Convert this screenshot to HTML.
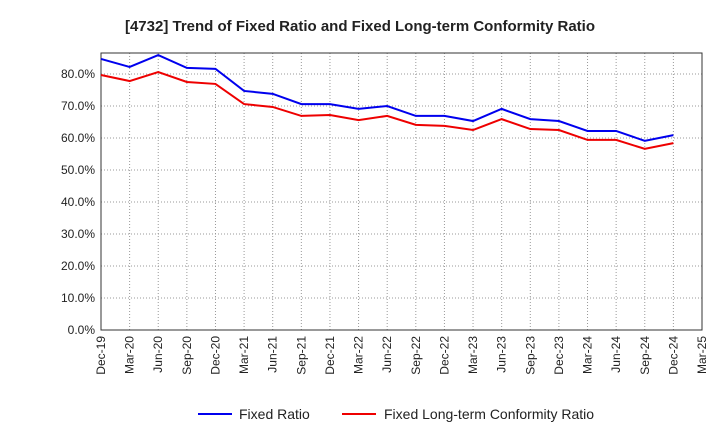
<!DOCTYPE html>
<html><head><meta charset="utf-8"><style>
body{margin:0;background:#fff;font-family:"Liberation Sans",sans-serif;}
svg text{font-family:"Liberation Sans",sans-serif;}
</style></head><body>
<svg width="720" height="440">
<text x="360" y="31" text-anchor="middle" font-size="15" font-weight="bold" fill="#222">[4732]  Trend of Fixed Ratio and Fixed Long-term Conformity Ratio</text>
<g id="grid"></g>
<g id="axes"></g>
<g id="series"></g>
<g>
<line x1="198" y1="414" x2="232" y2="414" stroke="#0000ee" stroke-width="2"/>
<text x="239" y="419" font-size="14" fill="#222">Fixed Ratio</text>
<line x1="342" y1="414" x2="376" y2="414" stroke="#ee0000" stroke-width="2"/>
<text x="384" y="419" font-size="14" fill="#222">Fixed Long-term Conformity Ratio</text>
</g>
</svg>
<script>
const xLabels=["Dec-19","Mar-20","Jun-20","Sep-20","Dec-20","Mar-21","Jun-21","Sep-21","Dec-21","Mar-22","Jun-22","Sep-22","Dec-22","Mar-23","Jun-23","Sep-23","Dec-23","Mar-24","Jun-24","Sep-24","Dec-24","Mar-25"];
const yTicks=[0,10,20,30,40,50,60,70,80];
const fixedRatio=[84.7,82.2,85.9,81.9,81.6,74.7,73.8,70.6,70.6,69.1,70.0,66.9,66.9,65.3,69.1,65.9,65.3,62.2,62.2,59.1,60.9];
const conformityRatio=[79.7,77.8,80.6,77.5,76.9,70.6,69.7,66.9,67.2,65.6,66.9,64.1,63.8,62.5,65.9,62.8,62.5,59.4,59.4,56.6,58.4];
const L=101,R=702,T=53,B=330;
const NS="http://www.w3.org/2000/svg";
const xs=i=>L+i*(R-L)/(xLabels.length-1);
const ys=v=>B-v*3.2;
function mk(tag,attrs,parent){const e=document.createElementNS(NS,tag);for(const k in attrs)e.setAttribute(k,attrs[k]);parent.appendChild(e);return e;}
const grid=document.getElementById('grid'),axes=document.getElementById('axes'),series=document.getElementById('series');
yTicks.forEach(v=>{
 const l=mk('line',{x1:L,x2:R,y1:ys(v),y2:ys(v),stroke:'#999','stroke-dasharray':'1,2'},grid);
 
 
 const t=mk('text',{x:L-6,y:ys(v)+4,'text-anchor':'end','font-size':12,fill:'#222'},axes);
 t.textContent=v.toFixed(1)+'%';
 
 
});
xLabels.forEach((lab,i)=>{
 const x=xs(i);
 const l=mk('line',{x1:x,x2:x,y1:T,y2:B,stroke:'#999','stroke-dasharray':'1,2'},grid);
 
 
 const t=mk('text',{x:x+4,y:B+6,'text-anchor':'end','font-size':12,fill:'#222',transform:`rotate(-90 ${x+4} ${B+6})`},axes);
 t.textContent=lab;
 
 
});
const fr=mk('rect',{x:L,y:T,width:R-L,height:B-T,fill:'none',stroke:'#333'},axes);


function line(data,color,name){
 const p=mk('polyline',{points:data.map((v,i)=>xs(i)+','+ys(v)).join(' '),fill:'none',stroke:color,'stroke-width':2},series);
 
 
}
line(conformityRatio,'#ee0000','conformity-ratio-line');
line(fixedRatio,'#0000ee','fixed-ratio-line');
</script>
</body></html>
